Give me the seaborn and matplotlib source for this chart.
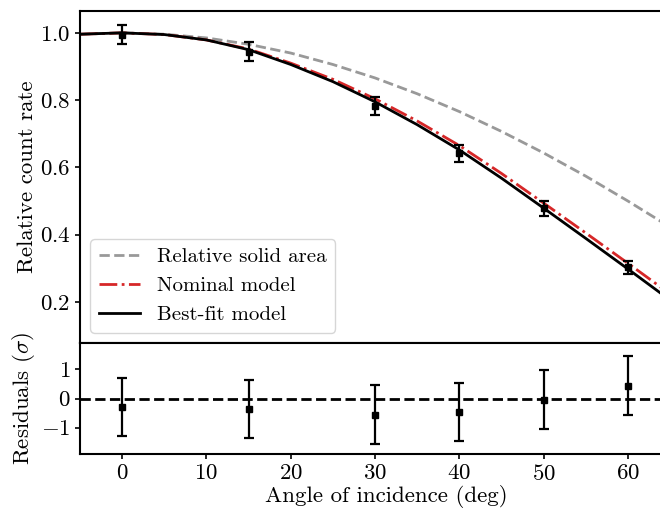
import matplotlib
matplotlib.use('Agg')
import matplotlib.pyplot as plt
import seaborn as sns

# measured points
angle_pts = [0, 15, 30, 40, 50, 60]
rate_pts = [0.994, 0.944, 0.783, 0.642, 0.479, 0.303]
rate_err = [0.028, 0.028, 0.027, 0.025, 0.022, 0.019]
resid_pts = [-0.30, -0.35, -0.55, -0.47, -0.04, 0.44]
resid_err = [1.0, 1.0, 1.0, 1.0, 1.0, 1.0]

# model curves
curve_angle = [-5, 0, 5, 10, 15, 20, 25, 30, 35, 40, 45, 50, 55, 60, 64, 68]
solid_area = [0.996, 1.0, 0.996, 0.985, 0.966, 0.940, 0.906, 0.866, 0.819,
              0.766, 0.707, 0.643, 0.574, 0.500, 0.438, 0.375]
nominal = [0.996, 1.0, 0.995, 0.979, 0.952, 0.910, 0.862, 0.804, 0.738,
           0.665, 0.582, 0.494, 0.405, 0.315, 0.242, 0.165]
best_fit = [0.996, 1.0, 0.995, 0.979, 0.950, 0.906, 0.855, 0.795, 0.727,
            0.652, 0.568, 0.479, 0.389, 0.298, 0.224, 0.146]

plt.rcParams['font.family'] = ['cmr10', 'DejaVu Serif']
plt.rcParams['mathtext.fontset'] = 'cm'
plt.rcParams['axes.formatter.use_mathtext'] = True
plt.rcParams['axes.linewidth'] = 1.5
plt.rcParams['xtick.major.width'] = 1.2
plt.rcParams['ytick.major.width'] = 1.2

fig = plt.figure(figsize=(6.6, 5.12), dpi=100)
ax1 = fig.add_axes([80 / 660, 169 / 512, 612 / 660, 332 / 512])
ax2 = fig.add_axes([80 / 660, 58 / 512, 612 / 660, 111 / 512], sharex=ax1)

sns.lineplot(x=curve_angle, y=solid_area, ax=ax1, color='#999999', lw=2,
             linestyle='--', label='Relative solid area')
sns.lineplot(x=curve_angle, y=nominal, ax=ax1, color='#d62728', lw=2,
             linestyle='-.', label='Nominal model')
sns.lineplot(x=curve_angle, y=best_fit, ax=ax1, color='black', lw=2,
             label='Best-fit model')
ax1.errorbar(angle_pts, rate_pts, yerr=rate_err, fmt='s', color='black',
             ms=4.5, elinewidth=1.6, capsize=3.6, capthick=1.6)

ax1.set_xlim(-5, 67.6)
ax1.set_ylim(0.078, 1.065)
ax1.set_yticks([0.2, 0.4, 0.6, 0.8, 1.0])
ax1.tick_params(axis='x', bottom=False, labelbottom=False)
ax1.tick_params(axis='y', labelsize=16.5)
ax1.set_ylabel('Relative count rate', fontsize=16.5)
ax1.yaxis.set_label_coords(-0.07, 0.5)
ax1.legend(loc='lower left', fontsize=15, edgecolor='0.8')

ax2.axhline(0, color='black', lw=2, linestyle='--')
ax2.errorbar(angle_pts, resid_pts, yerr=resid_err, fmt='s', color='black',
             ms=4.5, elinewidth=1.6, capsize=3.6, capthick=1.6)
ax2.set_ylim(-1.9, 1.9)
ax2.set_yticks([-1, 0, 1])
ax2.set_xticks([0, 10, 20, 30, 40, 50, 60])
ax2.tick_params(labelsize=16.5)
ax2.set_ylabel(r'Residuals ($\sigma$)', fontsize=16.5)
ax2.yaxis.set_label_coords(-0.07, 0.5)
ax2.set_xlabel('Angle of incidence (deg)', fontsize=16.5, labelpad=1)

fig.savefig('out.png', dpi=100)
